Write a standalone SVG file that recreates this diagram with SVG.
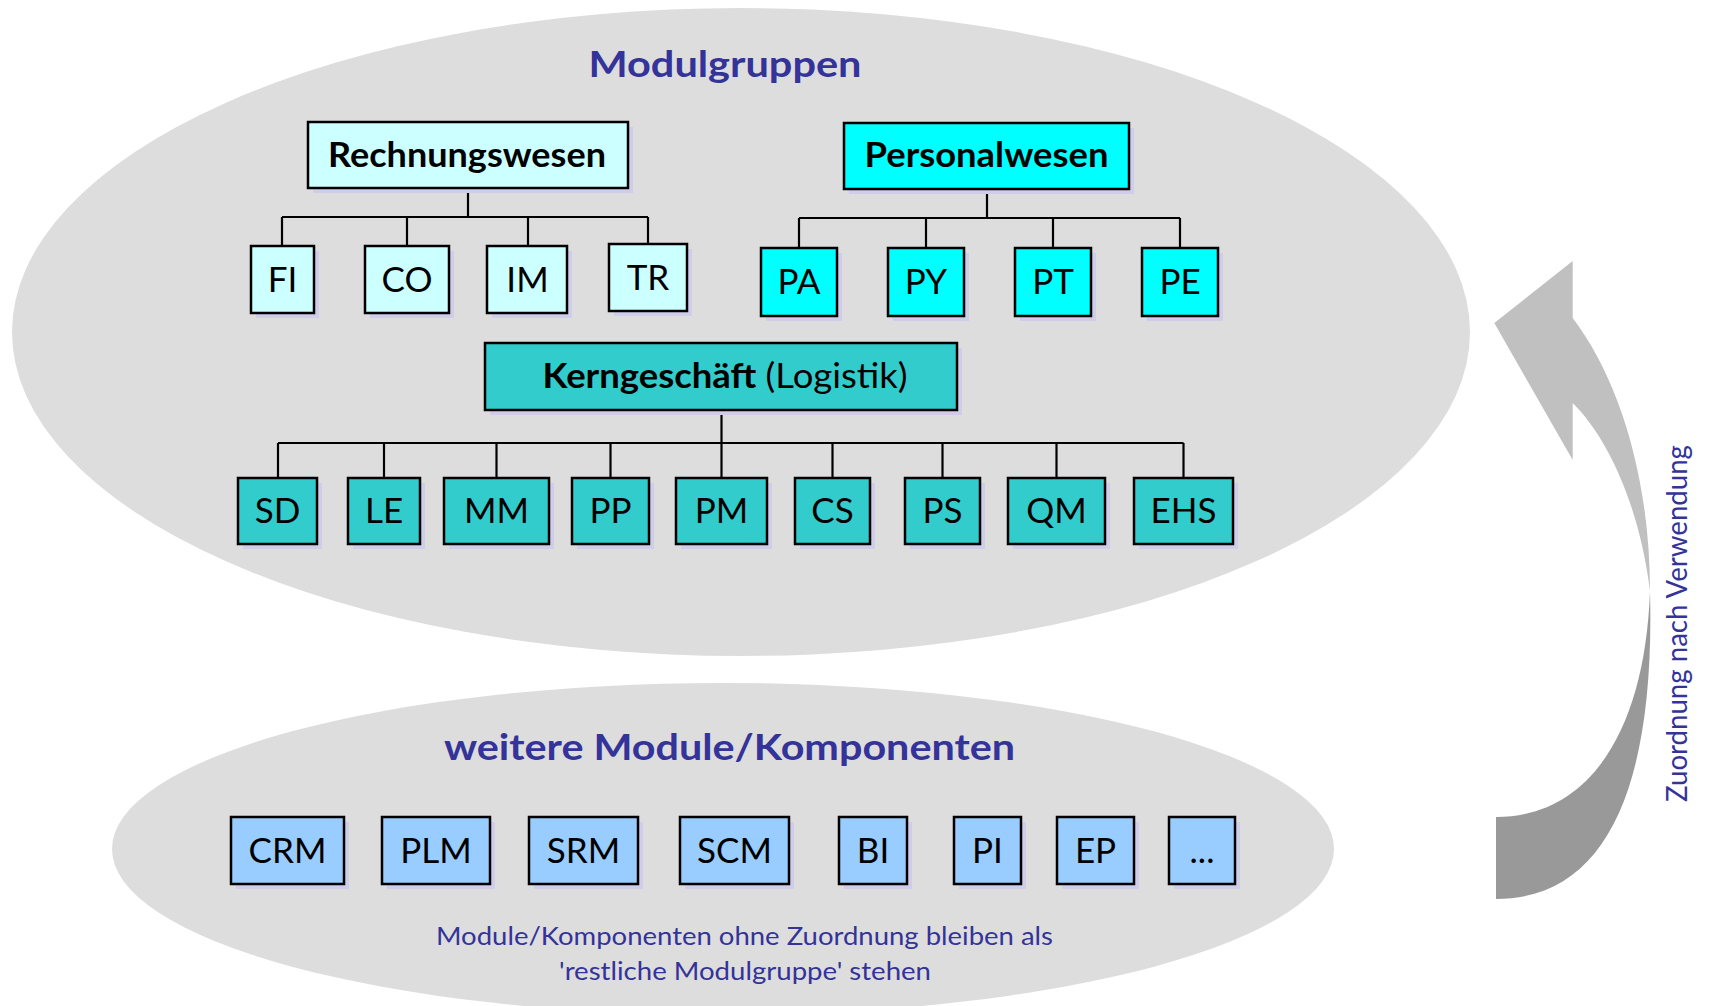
<svg xmlns="http://www.w3.org/2000/svg" width="1710" height="1006" viewBox="0 0 1710 1006">
<style>
.bg{fill:#dddddd}
.box{stroke:#000;stroke-width:2.5}
.sh{fill:#cfcdea}
.rw{fill:#ccffff}
.pw{fill:#00ffff}
.kg{fill:#33cccc}
.wm{fill:#99ccff}
.lbl{font-family:Lato,"Liberation Sans",sans-serif;font-size:35px;fill:#000;text-anchor:middle}
.grp{font-family:Lato,"Liberation Sans",sans-serif;font-size:34px;font-weight:bold;fill:#000;text-anchor:middle}
.ttl{font-family:Lato,"Liberation Sans",sans-serif;font-size:36px;font-weight:bold;fill:#333399;text-anchor:middle}
.sub{font-family:Lato,"Liberation Sans",sans-serif;font-size:25.5px;fill:#333399;text-anchor:middle}
.con{fill:none;stroke:#000;stroke-width:2.2}
</style>
<rect width="1710" height="1006" fill="#ffffff"/>
<ellipse class="bg" cx="741" cy="332" rx="729" ry="324"/>
<ellipse class="bg" cx="723" cy="849" rx="611" ry="166"/>
<g id="arrow">
<path d="M1650,591 C1650,480 1620,380 1572.7,318 L1572.7,261 L1494.3,323 L1572.7,460 L1572.7,403 C1610,440 1640,510 1650,591 Z" fill="#c0c0c0"/>
<path d="M1650,591 C1655,780 1610,899 1496,899 L1496,817 C1590,817 1645,730 1650,591 Z" fill="#999999"/>
</g>
<text class="ttl" x="725" y="77" textLength="273" lengthAdjust="spacingAndGlyphs">Modulgruppen</text>
<text class="ttl" x="729.5" y="760" textLength="571" lengthAdjust="spacingAndGlyphs">weitere Module/Komponenten</text>
<text class="sub" x="744.5" y="945" textLength="617" lengthAdjust="spacingAndGlyphs">Module/Komponenten ohne Zuordnung bleiben als</text>
<text class="sub" x="745" y="980" textLength="372" lengthAdjust="spacingAndGlyphs">'restliche Modulgruppe' stehen</text>
<text class="sub" transform="translate(1687,623.5) rotate(-90)" x="0" y="0" style="font-size:29px" textLength="357" lengthAdjust="spacingAndGlyphs">Zuordnung nach Verwendung</text>
<g id="connectors">
<path class="con" d="M468,188 V217 M282,217 H648 M282,217 V246 M407,217 V246 M528,217 V246 M648,217 V244"/>
<path class="con" d="M987,189 V218 M799,218 H1180 M799,218 V248 M926,218 V248 M1053,218 V248 M1180,218 V248"/>
<path class="con" d="M721.5,410 V443 M278,443 H1183.5 M278,443 V478 M384,443 V478 M496.5,443 V478 M610.5,443 V478 M721.5,443 V478 M832.5,443 V478 M942.5,443 V478 M1056.5,443 V478 M1183.5,443 V478"/>
</g>
<g id="n-rechnungswesen"><rect class="sh" x="313" y="127" width="320" height="66"/><rect class="box rw" x="308" y="122" width="320" height="66"/><text class="grp" x="467" y="167" textLength="278" lengthAdjust="spacingAndGlyphs">Rechnungswesen</text></g>
<g id="n-personalwesen"><rect class="sh" x="849" y="128" width="285" height="66"/><rect class="box pw" x="844" y="123" width="285" height="66"/><text class="grp" x="986.5" y="167" textLength="244" lengthAdjust="spacingAndGlyphs">Personalwesen</text></g>
<g id="n-kerngeschaeft"><rect class="sh" x="490" y="348" width="472" height="67"/><rect class="box kg" x="485" y="343" width="472" height="67"/><text class="lbl" x="725" y="388" textLength="365" lengthAdjust="spacingAndGlyphs"><tspan font-weight="bold">Kerngeschäft</tspan> (Logistik)</text></g>
<g id="n-fi"><rect class="sh" x="256" y="251" width="63" height="67"/><rect class="box rw" x="251" y="246" width="63" height="67"/><text class="lbl" x="282.5" y="292">FI</text></g>
<g id="n-co"><rect class="sh" x="370" y="251" width="84" height="67"/><rect class="box rw" x="365" y="246" width="84" height="67"/><text class="lbl" x="407" y="292">CO</text></g>
<g id="n-im"><rect class="sh" x="492" y="251" width="80" height="67"/><rect class="box rw" x="487" y="246" width="80" height="67"/><text class="lbl" x="527.5" y="292">IM</text></g>
<g id="n-tr"><rect class="sh" x="614" y="249" width="78" height="67"/><rect class="box rw" x="609" y="244" width="78" height="67"/><text class="lbl" x="648" y="290">TR</text></g>
<g id="n-pa"><rect class="sh" x="766" y="253" width="76" height="68"/><rect class="box pw" x="761" y="248" width="76" height="68"/><text class="lbl" x="799" y="294">PA</text></g>
<g id="n-py"><rect class="sh" x="893" y="253" width="76" height="68"/><rect class="box pw" x="888" y="248" width="76" height="68"/><text class="lbl" x="926" y="294">PY</text></g>
<g id="n-pt"><rect class="sh" x="1020" y="253" width="76" height="68"/><rect class="box pw" x="1015" y="248" width="76" height="68"/><text class="lbl" x="1053" y="294">PT</text></g>
<g id="n-pe"><rect class="sh" x="1147" y="253" width="76" height="68"/><rect class="box pw" x="1142" y="248" width="76" height="68"/><text class="lbl" x="1180" y="294">PE</text></g>
<g id="n-sd"><rect class="sh" x="243" y="483" width="79" height="66"/><rect class="box kg" x="238" y="478" width="79" height="66"/><text class="lbl" x="277.5" y="523">SD</text></g>
<g id="n-le"><rect class="sh" x="353" y="483" width="72" height="66"/><rect class="box kg" x="348" y="478" width="72" height="66"/><text class="lbl" x="384" y="523">LE</text></g>
<g id="n-mm"><rect class="sh" x="449" y="483" width="105" height="66"/><rect class="box kg" x="444" y="478" width="105" height="66"/><text class="lbl" x="496.5" y="523">MM</text></g>
<g id="n-pp"><rect class="sh" x="577" y="483" width="77" height="66"/><rect class="box kg" x="572" y="478" width="77" height="66"/><text class="lbl" x="610.5" y="523">PP</text></g>
<g id="n-pm"><rect class="sh" x="681" y="483" width="91" height="66"/><rect class="box kg" x="676" y="478" width="91" height="66"/><text class="lbl" x="721.5" y="523">PM</text></g>
<g id="n-cs"><rect class="sh" x="800" y="483" width="75" height="66"/><rect class="box kg" x="795" y="478" width="75" height="66"/><text class="lbl" x="832.5" y="523">CS</text></g>
<g id="n-ps"><rect class="sh" x="910" y="483" width="75" height="66"/><rect class="box kg" x="905" y="478" width="75" height="66"/><text class="lbl" x="942.5" y="523">PS</text></g>
<g id="n-qm"><rect class="sh" x="1013" y="483" width="97" height="66"/><rect class="box kg" x="1008" y="478" width="97" height="66"/><text class="lbl" x="1056.5" y="523">QM</text></g>
<g id="n-ehs"><rect class="sh" x="1139" y="483" width="99" height="66"/><rect class="box kg" x="1134" y="478" width="99" height="66"/><text class="lbl" x="1183.5" y="523">EHS</text></g>
<g id="n-crm"><rect class="sh" x="236" y="822" width="113" height="67"/><rect class="box wm" x="231" y="817" width="113" height="67"/><text class="lbl" x="287.5" y="863">CRM</text></g>
<g id="n-plm"><rect class="sh" x="387" y="822" width="108" height="67"/><rect class="box wm" x="382" y="817" width="108" height="67"/><text class="lbl" x="436" y="863">PLM</text></g>
<g id="n-srm"><rect class="sh" x="534" y="822" width="109" height="67"/><rect class="box wm" x="529" y="817" width="109" height="67"/><text class="lbl" x="583.5" y="863">SRM</text></g>
<g id="n-scm"><rect class="sh" x="685" y="822" width="109" height="67"/><rect class="box wm" x="680" y="817" width="109" height="67"/><text class="lbl" x="734.5" y="863">SCM</text></g>
<g id="n-bi"><rect class="sh" x="844" y="822" width="68" height="67"/><rect class="box wm" x="839" y="817" width="68" height="67"/><text class="lbl" x="873" y="863">BI</text></g>
<g id="n-pi"><rect class="sh" x="959" y="822" width="67" height="67"/><rect class="box wm" x="954" y="817" width="67" height="67"/><text class="lbl" x="987.5" y="863">PI</text></g>
<g id="n-ep"><rect class="sh" x="1062" y="822" width="77" height="67"/><rect class="box wm" x="1057" y="817" width="77" height="67"/><text class="lbl" x="1095.5" y="863">EP</text></g>
<g id="n-more"><rect class="sh" x="1174" y="822" width="66" height="67"/><rect class="box wm" x="1169" y="817" width="66" height="67"/><text class="lbl" x="1202" y="863">...</text></g>
</svg>
